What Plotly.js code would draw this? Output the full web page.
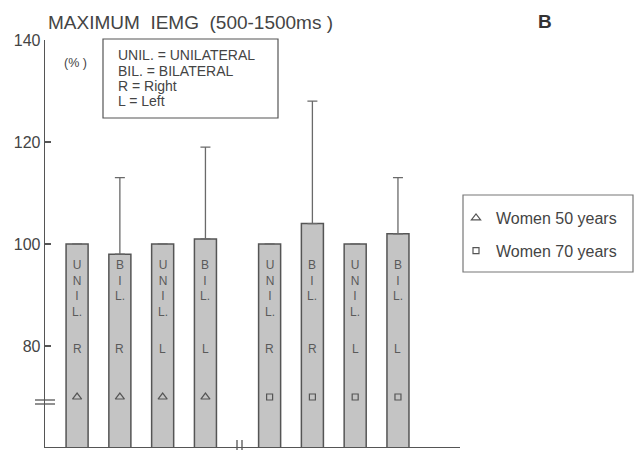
<!DOCTYPE html>
<html>
<head>
<meta charset="utf-8">
<script src="https://cdn.plot.ly/plotly-3.0.1.min.js"></script>
<style>html,body{margin:0;padding:0;background:#fff;}#chart{width:636px;height:450px;}</style>
</head>
<body>
<div id="chart"></div>
<script>
// ---- data ----
const categories = ['UNIL. R', 'BIL. R', 'UNIL. L', 'BIL. L', 'UNIL. R', 'BIL. R', 'UNIL. L', 'BIL. L'];
const groups = ['Women 50 years', 'Women 50 years', 'Women 50 years', 'Women 50 years',
                'Women 70 years', 'Women 70 years', 'Women 70 years', 'Women 70 years'];
const values = [100, 98, 100, 101, 100, 104, 100, 102];
const errUpper = [0, 15, 0, 18, 0, 24, 0, 11];
const yTickVals = [80, 100, 120, 140];
const yTickText = ['80', '100', '120', '140'];
const groupNames = ['Women 50 years', 'Women 70 years'];
const groupSymbols = ['triangle-up-open', 'square-open'];
const noteLines = ['UNIL. = UNILATERAL', 'BIL. = BILATERAL', 'R = Right', 'L = Left'];

// ---- layout helpers ----
const FONT = '"Liberation Sans", Arial, Helvetica, sans-serif';
const INK = '#444';
const W = 636, H = 450, ML = 45, MR = 176, MT = 40, MB = 3;
const PW = W - ML - MR, PH = H - MT - MB;
const px2x = p => (p - ML) / PW;          // pixel -> paper x
const px2y = p => (H - MB - p) / PH;      // pixel -> paper y

// x position: gap (axis break) between the two age groups
const xPos = categories.map((c, i) => i + 1 + (i >= 4 ? 0.5 : 0));
const symbolLevel = 70;     // row where the group symbol sits inside each bar
const stackTop = 97.6;      // top of the vertical word inside the bars
const sideLevel = 79.4;     // row of the R / L letter

const traces = [];
traces.push({
  type: 'bar',
  x: xPos,
  y: values,
  width: 0.515,
  marker: {color: '#c4c4c4', line: {color: '#555', width: 1.5}},
  error_y: {type: 'data', symmetric: false, array: errUpper,
            arrayminus: values.map(() => 0), color: '#6a6a6a', thickness: 1.3, width: 5},
  showlegend: false,
  hoverinfo: 'skip'
});
groupNames.forEach((g, gi) => {
  const xs = [], ys = [];
  groups.forEach((gg, i) => { if (gg === g) { xs.push(xPos[i]); ys.push(symbolLevel); } });
  traces.push({
    type: 'scatter', mode: 'markers', name: g, x: xs, y: ys,
    legendgroup: g,
    marker: {symbol: groupSymbols[gi], size: gi === 0 ? 8 : 6, color: '#555', line: {width: 1.2, color: '#555'}},
    hoverinfo: 'skip'
  });
});

const annotations = [];
categories.forEach((c, i) => {
  const parts = c.split(' ');
  const word = parts[0].replace('.', '');
  const letters = word.split('');
  letters[letters.length - 1] += '.';
  annotations.push({
    x: xPos[i], y: stackTop, xref: 'x', yref: 'y', yanchor: 'top', xanchor: 'center',
    text: letters.join('<br>'), showarrow: false,
    font: {family: FONT, size: 12, color: '#5a5a5a'}
  });
  annotations.push({
    x: xPos[i], y: sideLevel, xref: 'x', yref: 'y', yanchor: 'middle', xanchor: 'center',
    text: parts[1], showarrow: false,
    font: {family: FONT, size: 12, color: '#5a5a5a'}
  });
});
// note box text, one line at a time
const noteLineY = [55, 70.5, 86, 101];
noteLines.forEach((t, k) => {
  annotations.push({
    x: px2x(116), y: px2y(noteLineY[k]), xref: 'paper', yref: 'paper', xanchor: 'left', yanchor: 'middle',
    align: 'left', text: t, showarrow: false,
    font: {family: FONT, size: 14, color: INK}
  });
});
// (%) unit
annotations.push({
  x: px2x(75), y: px2y(63), xref: 'paper', yref: 'paper', xanchor: 'center', yanchor: 'middle',
  text: '(% )', showarrow: false, font: {family: FONT, size: 12.5, color: INK}
});
// panel letter
annotations.push({
  x: px2x(545), y: px2y(22), xref: 'paper', yref: 'paper', xanchor: 'center', yanchor: 'middle',
  text: '<b>B</b>', showarrow: false, font: {family: FONT, size: 19, color: '#333'}
});

const lineStyle = {color: '#555', width: 1.3};
const shapes = [
  // note box
  {type: 'rect', xref: 'paper', yref: 'paper', x0: px2x(103), x1: px2x(278), y0: px2y(118), y1: px2y(39),
   line: {color: '#555', width: 1.2}, fillcolor: 'rgba(0,0,0,0)'},
  // legend box
  {type: 'rect', xref: 'paper', yref: 'paper', x0: px2x(463), x1: px2x(633), y0: px2y(272), y1: px2y(195),
   line: {color: '#777', width: 1.2}, fillcolor: 'rgba(0,0,0,0)'},
  // y axis break
  {type: 'line', xref: 'paper', yref: 'paper', x0: px2x(35), x1: px2x(55), y0: px2y(400), y1: px2y(400), line: lineStyle},
  {type: 'line', xref: 'paper', yref: 'paper', x0: px2x(35), x1: px2x(55), y0: px2y(404), y1: px2y(404), line: lineStyle},
  // x axis break
  {type: 'line', xref: 'paper', yref: 'paper', x0: px2x(237), x1: px2x(237), y0: px2y(440), y1: px2y(451), line: lineStyle},
  {type: 'line', xref: 'paper', yref: 'paper', x0: px2x(242), x1: px2x(242), y0: px2y(440), y1: px2y(451), line: lineStyle}
];

const layout = {
  width: W, height: H,
  margin: {l: ML, r: MR, t: MT, b: MB, pad: 0},
  paper_bgcolor: '#fff', plot_bgcolor: '#fff',
  font: {family: FONT, color: INK},
  title: {text: 'MAXIMUM  IEMG  (500-1500ms )', x: 48 / W, xanchor: 'left', xref: 'container',
          y: 1 - 22 / H, yanchor: 'middle', yref: 'container',
          font: {family: FONT, size: 19, color: INK}},
  xaxis: {range: [0.25, 9.95], showgrid: false, zeroline: false, showline: true,
          linecolor: '#555', linewidth: 1.3, showticklabels: false, ticks: '', fixedrange: true},
  yaxis: {range: [60.2, 140], showgrid: false, zeroline: false, showline: true,
          linecolor: '#555', linewidth: 1.3, ticks: 'inside', ticklen: 6, tickcolor: '#555',
          tickwidth: 1.3, tickvals: yTickVals, ticktext: yTickText,
          tickfont: {family: FONT, size: 16, color: INK}, fixedrange: true},
  showlegend: true,
  legend: {x: px2x(456), y: px2y(201), xanchor: 'left', yanchor: 'top', borderwidth: 0,
           bgcolor: 'rgba(0,0,0,0)', font: {family: FONT, size: 16, color: INK},
           traceorder: 'grouped', tracegroupgap: 9, itemwidth: 30},
  annotations: annotations,
  shapes: shapes,
  bargap: 0
};

Plotly.newPlot('chart', traces, layout, {staticPlot: true, displayModeBar: false});
</script>
</body>
</html>
